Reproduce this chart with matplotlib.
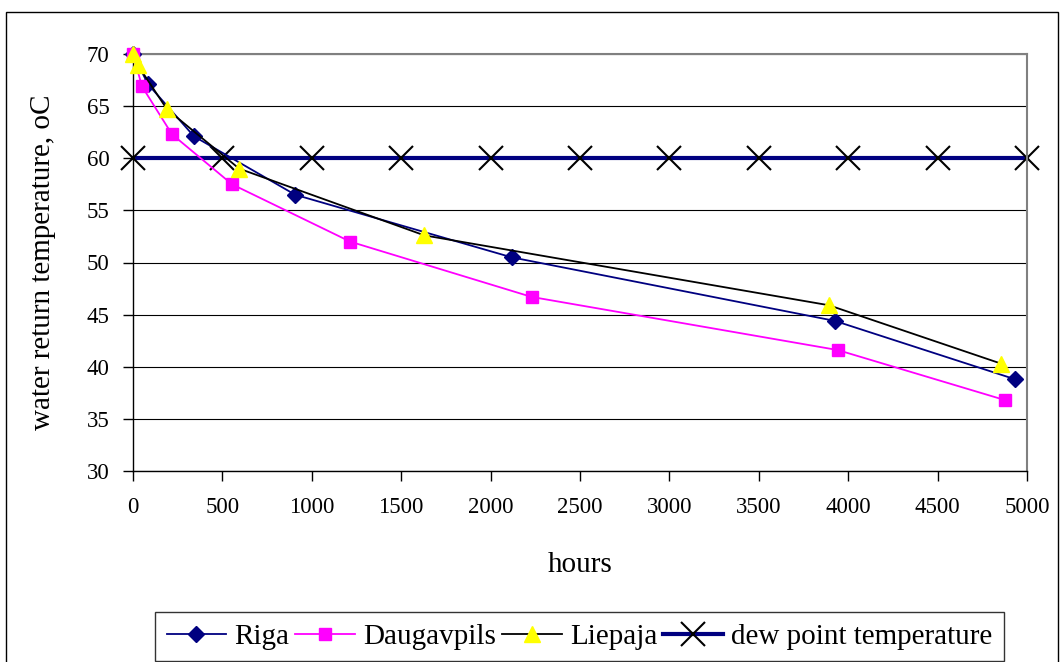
import matplotlib.pyplot as plt
from matplotlib.patches import Rectangle

plt.rcParams['font.family'] = ['Liberation Serif', 'DejaVu Serif']

# Riga
riga_h = [0, 84, 341, 907, 2117, 3925, 4933]
riga_t = [70, 67.1, 62.1, 56.5, 50.5, 44.4, 38.8]
# Daugavpils
daug_h = [0, 50, 218, 554, 1215, 2229, 3942, 4877]
daug_t = [70, 66.9, 62.3, 57.5, 52.0, 46.7, 41.6, 36.8]
# Liepaja
liep_h = [0, 28, 190, 594, 1630, 3892, 4855]
liep_t = [70, 68.9, 64.7, 59.0, 52.6, 45.9, 40.3]
# dew point
dew_h = [0, 500, 1000, 1500, 2000, 2500, 3000, 3500, 4000, 4500, 5000]
dew_t = [60] * len(dew_h)

fig = plt.figure(figsize=(10.62, 6.62), dpi=100)
ax = fig.add_axes([133/1062, 191/662, (1027-133)/1062, (471-54)/662])

ax.plot(dew_h, dew_t, color='#000080', lw=3, marker='x', ms=17, mew=1.5,
        mec='black', label='dew point temperature', zorder=2, clip_on=False)
ax.plot(riga_h, riga_t, color='#000080', lw=1.3, marker='D', ms=8,
        label='Riga', zorder=3, clip_on=False)
ax.plot(daug_h, daug_t, color='#ff00ff', lw=1.3, marker='s', ms=8.5,
        label='Daugavpils', zorder=3, clip_on=False)
ax.plot(liep_h, liep_t, color='black', lw=1.3, marker='^', ms=11,
        mfc='yellow', mec='yellow', label='Liepaja', zorder=4, clip_on=False)

ax.set_xlim(0, 5000)
ax.set_ylim(30, 70)
ax.set_xticks(range(0, 5001, 500))
ax.set_yticks(range(30, 71, 5))
ax.yaxis.grid(True, color='black', lw=0.8)
ax.set_axisbelow(True)
ax.tick_params(labelsize=16.5, direction='out', length=7, width=1)
ax.tick_params(axis='x', pad=12)
ax.tick_params(axis='y', pad=10)
for s in ['top', 'right']:
    ax.spines[s].set_color('#808080')
    ax.spines[s].set_linewidth(1.5)
ax.spines['left'].set_linewidth(1)
ax.spines['bottom'].set_linewidth(1)

ax.set_xlabel('hours', fontsize=21, labelpad=24)
ax.set_ylabel('water return temperature, oC', fontsize=21, labelpad=22)

h, l = ax.get_legend_handles_labels()
order = [1, 2, 3, 0]
leg = fig.legend([h[i] for i in order], [l[i] for i in order], ncol=4,
                 loc='center', bbox_to_anchor=(579.5/1062, 1 - 636.5/662),
                 fontsize=21, frameon=True, fancybox=False, edgecolor='black',
                 handlelength=2.05, columnspacing=0.2, handletextpad=0.28,
                 borderpad=0.4, borderaxespad=0)
leg.get_frame().set_linewidth(1)

fig.patches.append(Rectangle((6/1062, -0.01), (1058-6)/1062, 1 - 12/662 + 0.01,
                             transform=fig.transFigure, fill=False,
                             edgecolor='black', lw=1))

fig.savefig('out.png', dpi=100)
